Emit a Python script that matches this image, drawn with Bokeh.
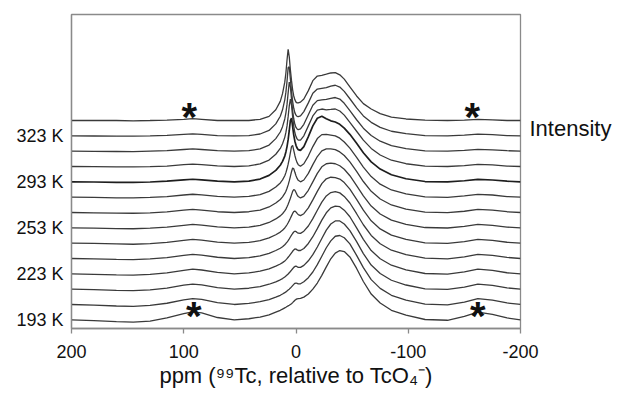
from bokeh.plotting import figure
from bokeh.models import Range1d, FixedTicker, Label, LinearAxis
from bokeh.embed import file_html
from bokeh.resources import INLINE

# chemical shift grid (ppm) shared by all spectra
ppm = [200, 180, 160, 145, 130, 115, 100, 92, 84, 70,
       55, 42, 32, 24, 18, 14, 12, 10, 9, 8, 7, 6, 5, 4, 3, 2, 1, 0, -1, -2,
       -4, -7, -11, -15, -19, -23, -27, -31, -35, -39, -43, -48, -54, -60, -67,
       -75, -85, -98, -115,
       -135, -150, -162, -175, -188, -200]

# intensities (arbitrary units), spectra listed from bottom (193 K) to top
spec_01 = [0.0, -0.05, -0.12, -0.15, -0.08, 0.12, 0.4, 0.52, 0.45, 0.15,
           0.0, 0.07, 0.18, 0.32, 0.5, 0.62, 0.7, 0.78, 0.82, 0.87, 0.91, 0.95, 1.0, 1.05, 1.12, 1.2, 1.27, 1.33, 1.37, 1.38,
           1.4, 1.48, 1.68, 2.0, 2.4, 2.9, 3.45, 3.98, 4.35, 4.52, 4.45, 4.1, 3.35, 2.5, 1.68, 1.1, 0.62, 0.3, 0.02,
           -0.03, 0.22, 0.5, 0.35, 0.12, 0.0]
spec_02 = [0.0, -0.04, -0.1, -0.12, -0.06, 0.08, 0.3, 0.38, 0.33, 0.12,
           0.0, 0.07, 0.18, 0.32, 0.48, 0.6, 0.68, 0.77, 0.82, 0.88, 0.94, 1.0, 1.07, 1.15, 1.23, 1.31, 1.38, 1.4, 1.37, 1.34,
           1.35, 1.48, 1.75, 2.12, 2.6, 3.15, 3.7, 4.15, 4.45, 4.5, 4.35, 3.95, 3.2, 2.4, 1.62, 1.05, 0.6, 0.28, 0.02,
           -0.02, 0.15, 0.38, 0.28, 0.1, 0.0]
spec_03 = [0.0, -0.03, -0.08, -0.1, -0.05, 0.07, 0.26, 0.33, 0.28, 0.1,
           0.0, 0.06, 0.17, 0.32, 0.48, 0.61, 0.69, 0.79, 0.85, 0.92, 0.99, 1.07, 1.15, 1.24, 1.33, 1.42, 1.48, 1.5, 1.46, 1.42,
           1.42, 1.55, 1.85, 2.25, 2.75, 3.3, 3.85, 4.25, 4.45, 4.45, 4.25, 3.82, 3.1, 2.32, 1.57, 1.02, 0.58, 0.27, 0.02,
           -0.02, 0.13, 0.33, 0.25, 0.08, 0.0]
spec_04 = [0.0, -0.03, -0.07, -0.09, -0.04, 0.06, 0.23, 0.3, 0.25, 0.09,
           0.0, 0.06, 0.17, 0.32, 0.5, 0.64, 0.73, 0.84, 0.91, 0.99, 1.08, 1.17, 1.27, 1.37, 1.47, 1.56, 1.62, 1.61, 1.56, 1.52,
           1.52, 1.65, 1.98, 2.42, 2.95, 3.5, 3.98, 4.3, 4.42, 4.38, 4.15, 3.72, 3.0, 2.25, 1.52, 0.98, 0.56, 0.26, 0.02,
           -0.02, 0.12, 0.3, 0.22, 0.07, 0.0]
spec_05 = [0.0, -0.02, -0.06, -0.08, -0.03, 0.06, 0.2, 0.27, 0.22, 0.08,
           0.0, 0.06, 0.17, 0.33, 0.52, 0.67, 0.77, 0.9, 0.98, 1.07, 1.17, 1.28, 1.4, 1.52, 1.63, 1.73, 1.78, 1.76, 1.7, 1.65,
           1.64, 1.78, 2.12, 2.6, 3.15, 3.68, 4.08, 4.3, 4.36, 4.28, 4.05, 3.62, 2.92, 2.2, 1.5, 0.96, 0.54, 0.25, 0.02,
           -0.02, 0.11, 0.27, 0.2, 0.07, 0.0]
spec_06 = [0.0, -0.02, -0.05, -0.07, -0.03, 0.05, 0.18, 0.24, 0.2, 0.07,
           0.0, 0.05, 0.16, 0.34, 0.55, 0.72, 0.84, 0.99, 1.09, 1.2, 1.33, 1.47, 1.62, 1.78, 1.94, 2.06, 2.1, 2.04, 1.94, 1.86,
           1.8, 1.92, 2.3, 2.82, 3.38, 3.88, 4.2, 4.3, 4.28, 4.18, 3.95, 3.52, 2.85, 2.15, 1.46, 0.93, 0.52, 0.24, 0.02,
           -0.01, 0.1, 0.24, 0.18, 0.06, 0.0]
spec_07 = [0.0, -0.02, -0.05, -0.06, -0.02, 0.05, 0.16, 0.22, 0.18, 0.06,
           0.0, 0.05, 0.16, 0.35, 0.58, 0.78, 0.92, 1.1, 1.22, 1.37, 1.54, 1.73, 1.93, 2.15, 2.38, 2.5, 2.45, 2.3, 2.15, 2.04,
           1.95, 2.05, 2.45, 3.0, 3.55, 3.98, 4.18, 4.22, 4.18, 4.05, 3.82, 3.4, 2.75, 2.08, 1.42, 0.9, 0.5, 0.23, 0.02,
           -0.01, 0.09, 0.22, 0.16, 0.05, 0.0]
spec_08 = [0.0, -0.02, -0.04, -0.05, -0.02, 0.04, 0.15, 0.2, 0.16, 0.05,
           0.0, 0.05, 0.16, 0.36, 0.62, 0.85, 1.02, 1.24, 1.39, 1.58, 1.8, 2.06, 2.35, 2.66, 2.9, 2.85, 2.62, 2.4, 2.22, 2.1,
           2.0, 2.12, 2.55, 3.12, 3.65, 4.02, 4.15, 4.15, 4.1, 3.95, 3.72, 3.3, 2.68, 2.02, 1.38, 0.88, 0.49, 0.22, 0.02,
           -0.01, 0.08, 0.2, 0.15, 0.05, 0.0]
spec_09 = [0.0, -0.01, -0.04, -0.05, -0.02, 0.04, 0.14, 0.19, 0.15, 0.05,
           0.0, 0.05, 0.17, 0.38, 0.66, 0.93, 1.13, 1.4, 1.6, 1.85, 2.15, 2.5, 2.9, 3.3, 3.38, 3.05, 2.72, 2.45, 2.25, 2.12,
           2.02, 2.18, 2.68, 3.3, 3.82, 4.08, 4.1, 4.05, 4.0, 3.85, 3.6, 3.2, 2.6, 1.96, 1.34, 0.85, 0.47, 0.21, 0.02,
           -0.01, 0.08, 0.18, 0.14, 0.04, 0.0]
spec_10 = [0.0, -0.01, -0.03, -0.04, -0.01, 0.04, 0.13, 0.17, 0.13, 0.04,
           0.0, 0.05, 0.18, 0.42, 0.75, 1.08, 1.33, 1.68, 1.95, 2.3, 2.75, 3.35, 4.0, 4.15, 3.6, 3.05, 2.65, 2.38, 2.2, 2.1,
           2.05, 2.3, 2.95, 3.65, 4.15, 4.28, 4.12, 3.98, 3.9, 3.75, 3.5, 3.1, 2.52, 1.9, 1.3, 0.83, 0.46, 0.2, 0.02,
           0.0, 0.07, 0.16, 0.12, 0.04, 0.0]
spec_11 = [0.0, -0.01, -0.03, -0.03, -0.01, 0.03, 0.12, 0.16, 0.12, 0.04,
           0.0, 0.04, 0.17, 0.42, 0.8, 1.18, 1.48, 1.9, 2.22, 2.65, 3.25, 3.95, 4.4, 4.0, 3.25, 2.62, 2.2, 1.95, 1.8, 1.72,
           1.72, 2.0, 2.65, 3.3, 3.68, 3.75, 3.7, 3.72, 3.75, 3.62, 3.35, 2.88, 2.3, 1.72, 1.18, 0.75, 0.41, 0.18, 0.02,
           0.0, 0.06, 0.14, 0.1, 0.03, 0.0]
spec_12 = [0.0, -0.01, -0.02, -0.03, 0.0, 0.03, 0.11, 0.15, 0.11, 0.03,
           0.0, 0.03, 0.15, 0.4, 0.82, 1.25, 1.6, 2.1, 2.5, 3.05, 3.8, 4.5, 4.2, 3.4, 2.65, 2.1, 1.75, 1.55, 1.45, 1.4,
           1.45, 1.75, 2.38, 3.0, 3.3, 3.35, 3.38, 3.45, 3.5, 3.4, 3.12, 2.65, 2.05, 1.5, 1.02, 0.65, 0.36, 0.16, 0.02,
           0.0, 0.05, 0.12, 0.09, 0.03, 0.0]
spec_13 = [0.0, -0.01, -0.02, -0.02, 0.0, 0.03, 0.1, 0.13, 0.1, 0.02,
           0.0, 0.02, 0.12, 0.35, 0.78, 1.28, 1.7, 2.35, 2.85, 3.55, 4.45, 4.5, 3.7, 2.9, 2.25, 1.8, 1.5, 1.35, 1.27, 1.25,
           1.3, 1.58, 2.15, 2.78, 3.05, 3.1, 3.15, 3.25, 3.3, 3.18, 2.9, 2.42, 1.82, 1.3, 0.88, 0.55, 0.3, 0.14, 0.02,
           0.0, 0.05, 0.11, 0.08, 0.02, 0.0]
spec_14 = [0.0, 0.01, 0.0, -0.02, 0.0, 0.03, 0.08, 0.12, 0.08, 0.0,
           0.0, 0.0, 0.08, 0.27, 0.7, 1.25, 1.75, 2.5, 3.1, 3.95, 4.65, 4.15, 3.3, 2.6, 2.0, 1.6, 1.35, 1.2, 1.15, 1.15,
           1.2, 1.4, 1.95, 2.6, 2.9, 2.95, 3.02, 3.1, 3.12, 2.98, 2.7, 2.2, 1.6, 1.1, 0.75, 0.45, 0.22, 0.1, 0.03,
           0.0, 0.03, 0.08, 0.04, 0.0, 0.0]

spectra = [spec_01, spec_02, spec_03, spec_04, spec_05, spec_06, spec_07,
           spec_08, spec_09, spec_10, spec_11, spec_12, spec_13, spec_14]

# temperature labels and which spectrum they belong to
temp_labels = ["193 K", "223 K", "253 K", "293 K", "323 K"]
temp_spectrum = [0, 3, 6, 9, 12]

x_ticks = [200, 100, 0, -100, -200]
x_tick_labels = ["200", "100", "0", "-100", "-200"]

# spinning sidebands marked with asterisks: (ppm, spectrum index)
sideband_ppm = [95, -157, 91, -162]
sideband_spec = [13, 13, 0, 0]

for s in spectra:
    assert len(s) == len(ppm)

offset = 1.0
FONT = "Liberation Sans"
FRAME = "#8a8a8a"
INK = "#111111"

p = figure(width=617, height=396, output_backend="svg", toolbar_location=None,
           x_range=Range1d(200, -200), y_range=Range1d(-0.567, 19.915),
           min_border_left=71, min_border_right=97, min_border_top=14,
           min_border_bottom=68)
p.xgrid.visible = False
p.ygrid.visible = False
p.outline_line_color = FRAME
p.outline_line_width = 1.3
p.background_fill_color = "white"
p.border_fill_color = "white"

for i, s in enumerate(spectra):
    ys = [v + i * offset for v in s]
    if i == 9:
        p.line(ppm, ys, line_color="#1e1e1e", line_width=1.7)
    else:
        p.line(ppm, ys, line_color="#3a3a3a", line_width=1.3)

# x axis
xa = p.xaxis[0]
xa.ticker = FixedTicker(ticks=x_ticks)
xa.major_label_overrides = dict(zip(x_ticks, x_tick_labels))
xa.minor_tick_line_color = None
xa.major_tick_out = 5
xa.major_tick_in = 0
xa.major_tick_line_color = FRAME
xa.major_tick_line_width = 1.3
xa.axis_line_color = FRAME
xa.axis_line_width = 1.3
xa.major_label_standoff = 11
xa.major_label_text_font = FONT
xa.major_label_text_font_size = "18px"
xa.major_label_text_color = INK
xa.axis_label = "ppm (\u2079\u2079Tc, relative to TcO\u2084\u207b)"
xa.axis_label_text_font = FONT
xa.axis_label_text_font_size = "22px"
xa.axis_label_text_font_style = "normal"
xa.axis_label_text_color = INK
xa.axis_label_standoff = 2

# y axis with temperature labels
ya = p.yaxis[0]
ya.ticker = FixedTicker(ticks=[i * offset for i in temp_spectrum])
ya.major_label_overrides = {i * offset: t for i, t in zip(temp_spectrum, temp_labels)}
ya.minor_tick_line_color = None
ya.major_tick_line_color = None
ya.major_tick_out = 0
ya.major_tick_in = 0
ya.axis_line_color = FRAME
ya.axis_line_width = 1.3
ya.major_label_standoff = 8
ya.major_label_text_font = FONT
ya.major_label_text_font_size = "18px"
ya.major_label_text_color = INK

# right-side "Intensity" label, drawn as a single-tick right axis
intensity_pos = 12.5
ra = LinearAxis(ticker=FixedTicker(ticks=[intensity_pos]),
                major_label_overrides={intensity_pos: "Intensity"})
ra.axis_line_color = None
ra.major_tick_line_color = None
ra.minor_tick_line_color = None
ra.major_tick_out = 0
ra.major_tick_in = 0
ra.major_label_standoff = 9
ra.major_label_text_font = FONT
ra.major_label_text_font_size = "22px"
ra.major_label_text_color = INK
p.add_layout(ra, "right")

# asterisks over sidebands
for xs, si in zip(sideband_ppm, sideband_spec):
    p.add_layout(Label(x=xs, y=si * offset + 0.65, y_offset=-6, text="*",
                       text_font=FONT, text_font_style="bold", text_font_size="40px",
                       text_color=INK, text_align="center",
                       text_baseline="alphabetic"))

open("out.html", "w").write(file_html(p, INLINE))
